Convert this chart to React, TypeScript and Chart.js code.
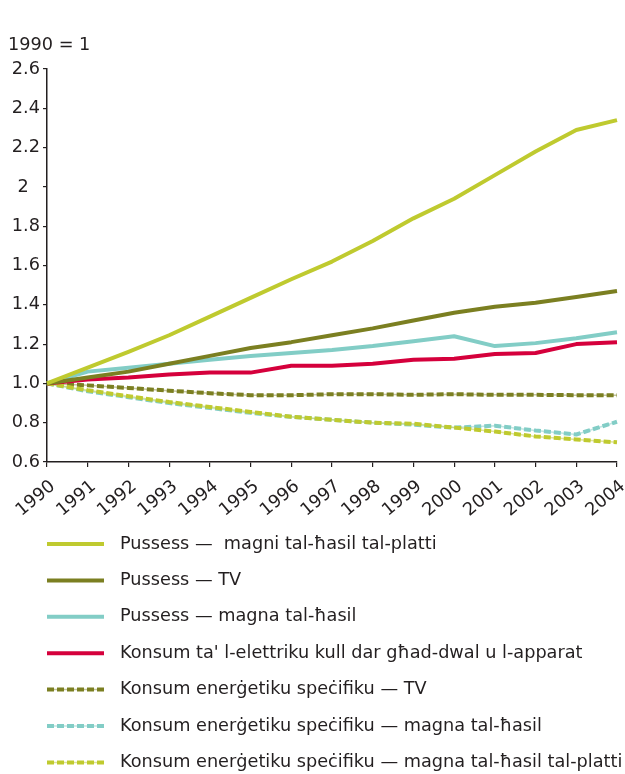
import React, { useEffect, useRef } from 'react';
import { Chart, registerables } from 'chart.js';

Chart.register(...registerables);

const years = ['1990', '1991', '1992', '1993', '1994', '1995', '1996', '1997', '1998', '1999', '2000', '2001', '2002', '2003', '2004'];

const pussessPlatti = [1.0, 1.08, 1.16, 1.245, 1.34, 1.435, 1.53, 1.62, 1.725, 1.84, 1.94, 2.06, 2.18, 2.29, 2.34];
const pussessTV = [1.0, 1.03, 1.06, 1.1, 1.14, 1.18, 1.21, 1.245, 1.28, 1.32, 1.36, 1.39, 1.41, 1.44, 1.47];
const pussessMagna = [1.0, 1.06, 1.08, 1.1, 1.12, 1.14, 1.155, 1.17, 1.19, 1.215, 1.24, 1.19, 1.205, 1.23, 1.26];
const konsumElettriku = [1.0, 1.02, 1.03, 1.045, 1.055, 1.055, 1.09, 1.09, 1.1, 1.12, 1.125, 1.15, 1.155, 1.2, 1.21];
const specifikuTV = [1.0, 0.99, 0.977, 0.963, 0.95, 0.94, 0.94, 0.945, 0.945, 0.942, 0.945, 0.942, 0.942, 0.94, 0.94];
const specifikuMagna = [1.0, 0.96, 0.93, 0.9, 0.875, 0.85, 0.83, 0.815, 0.8, 0.79, 0.775, 0.785, 0.76, 0.74, 0.805];
const specifikuPlatti = [1.0, 0.965, 0.935, 0.905, 0.88, 0.855, 0.83, 0.815, 0.8, 0.795, 0.775, 0.755, 0.73, 0.715, 0.7];

const yTickValues = [0.6, 0.8, 1.0, 1.2, 1.4, 1.6, 1.8, 2.0, 2.2, 2.4, 2.6];
const yTickLabels = ['0.6', '0.8', '1.0', '1.2', '1.4', '1.6', '1.8', '2  ', '2.2', '2.4', '2.6'];

const unitLabel = '1990 = 1';

const seriesLabels = [
  'Pussess —  magni tal-ħasil tal-platti',
  'Pussess — TV',
  'Pussess — magna tal-ħasil',
  "Konsum ta' l-elettriku kull dar għad-dwal u l-apparat",
  'Konsum enerġetiku speċifiku — TV',
  'Konsum enerġetiku speċifiku — magna tal-ħasil',
  'Konsum enerġetiku speċifiku — magna tal-ħasil tal-platti',
];

const LIME = '#bfca2f';
const OLIVE = '#7b7f21';
const TEAL = '#82cdc6';
const RED = '#d5003c';
const TEXT = '#231f20';
const FONT = '"DejaVu Sans", Verdana, sans-serif';
const FONT_SIZE = 17.7;
const DASH = [7, 3];

type Entry = { label: string; data: number[]; color: string; dashed: boolean; thin: string };

const entries: Entry[] = [
  { label: seriesLabels[0], data: pussessPlatti, color: LIME, dashed: false, thin: '' },
  { label: seriesLabels[1], data: pussessTV, color: OLIVE, dashed: false, thin: '' },
  { label: seriesLabels[2], data: pussessMagna, color: TEAL, dashed: false, thin: '' },
  { label: seriesLabels[3], data: konsumElettriku, color: RED, dashed: false, thin: '' },
  { label: seriesLabels[4], data: specifikuTV, color: OLIVE, dashed: true, thin: 'rgba(123,127,33,0.45)' },
  { label: seriesLabels[5], data: specifikuMagna, color: TEAL, dashed: true, thin: 'rgba(130,205,198,0.5)' },
  { label: seriesLabels[6], data: specifikuPlatti, color: LIME, dashed: true, thin: 'rgba(191,202,47,0.5)' },
];

const drawOrder = [1, 2, 3, 4, 7, 6, 5];

const legendPlugin = {
  id: 'customLegend',
  afterDraw(chart: any) {
    const ctx = chart.ctx as CanvasRenderingContext2D;
    const xs = chart.scales.x;
    const top = xs.bottom + 10;
    entries.forEach((e, i) => {
      const y = top + i * 36.4;
      ctx.save();
      ctx.lineCap = 'butt';
      if (e.dashed) {
        ctx.setLineDash([]);
        ctx.lineWidth = 1.5;
        ctx.strokeStyle = e.thin;
        ctx.beginPath();
        ctx.moveTo(47, y);
        ctx.lineTo(104, y);
        ctx.stroke();
      }
      ctx.setLineDash(e.dashed ? DASH : []);
      ctx.lineWidth = 4;
      ctx.strokeStyle = e.color;
      ctx.beginPath();
      ctx.moveTo(47, y);
      ctx.lineTo(104, y);
      ctx.stroke();
      ctx.setLineDash([]);
      ctx.fillStyle = TEXT;
      ctx.font = `${FONT_SIZE}px ${FONT}`;
      ctx.textAlign = 'left';
      ctx.textBaseline = 'middle';
      ctx.fillText(e.label, 120, y);
      ctx.restore();
    });
  },
};

export default function App() {
  const ref = useRef<HTMLCanvasElement | null>(null);

  useEffect(() => {
    document.body.style.margin = '0';
    if (!ref.current) return;

    const datasets: any[] = [];
    entries.forEach((e, i) => {
      datasets.push({
        label: e.label,
        data: e.data,
        borderColor: e.color,
        backgroundColor: e.color,
        borderWidth: 4,
        borderDash: e.dashed ? DASH : [],
        borderCapStyle: 'butt',
        borderJoinStyle: 'round',
        pointRadius: 0,
        tension: 0,
        fill: false,
        order: drawOrder[i],
      });
      if (e.dashed) {
        datasets.push({
          label: e.label + ' (linja)',
          data: e.data,
          borderColor: e.thin,
          borderWidth: 1.5,
          pointRadius: 0,
          tension: 0,
          fill: false,
          order: drawOrder[i] + 0.5,
        });
      }
    });

    const chart = new Chart(ref.current, {
      type: 'line',
      data: { labels: years, datasets },
      plugins: [legendPlugin],
      options: {
        animation: false,
        responsive: false,
        maintainAspectRatio: false,
        layout: { padding: { left: 8, right: 8, top: 0, bottom: 240 } },
        plugins: {
          legend: { display: false },
          tooltip: { enabled: false },
          title: {
            display: true,
            text: unitLabel,
            align: 'start',
            color: TEXT,
            font: { family: FONT, size: FONT_SIZE, weight: 'normal', lineHeight: 1.2 },
            padding: { top: 35, bottom: 12.8 },
          },
        },
        scales: {
          x: {
            type: 'category',
            offset: false,
            grid: { drawOnChartArea: false, drawTicks: true, tickLength: 5, color: TEXT, lineWidth: 1.2 },
            border: { color: TEXT, width: 1.5 },
            ticks: {
              autoSkip: false,
              maxRotation: 40,
              minRotation: 40,
              color: TEXT,
              font: { family: FONT, size: FONT_SIZE },
              padding: 9,
              labelOffset: 6,
            },
            afterFit: (s: any) => {
              s.height = 72;
              s.paddingLeft = 0;
              s.paddingRight = 0;
            },
          },
          y: {
            min: 0.6,
            max: 2.6,
            grid: { drawOnChartArea: false, drawTicks: true, tickLength: 4, color: TEXT, lineWidth: 1.2 },
            border: { color: TEXT, width: 1.5 },
            ticks: {
              stepSize: 0.2,
              color: TEXT,
              font: { family: FONT, size: FONT_SIZE },
              padding: 3,
              callback: (v: any) => {
                const idx = yTickValues.findIndex((t) => Math.abs(t - Number(v)) < 1e-6);
                return idx >= 0 ? yTickLabels[idx] : '';
              },
            },
            afterFit: (s: any) => { s.width = 39; },
          },
        },
      },
    });
    return () => chart.destroy();
  }, []);

  return (
    <div style={{ width: 625, height: 774 }}>
      <canvas ref={ref} width={625} height={774} />
    </div>
  );
}
